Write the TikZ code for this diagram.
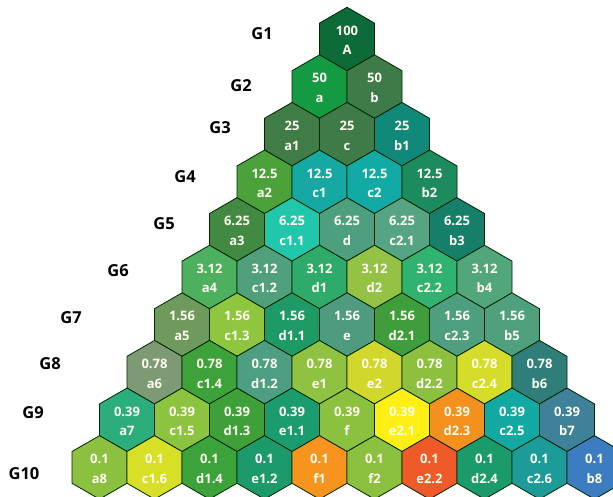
\documentclass[tikz,border=0pt]{standalone}
\usepackage{fontspec}
\setmainfont{Open Sans}
\usetikzlibrary{shapes.geometric}
\newcommand{\hx}[6]{%
  \definecolor{col#1}{HTML}{#4}%
  \node[hexa, fill=col#1] (h#1) at ({347+(#3-(#2+1)/2)*55},{39+(#2-1)*47.6}) {};
  \node[htxt] (t#1) at ([yshift=-1.5pt]h#1.center) {#5\\#6};}
\begin{document}
\begin{tikzpicture}[x=1pt,y=-1pt,
  hexa/.style={regular polygon, regular polygon sides=6, shape border rotate=30,
    minimum size=63.5pt, inner sep=0pt, outer sep=0pt, draw=black!85!green, line width=0.8pt},
  htxt/.style={text=white!95!yellow, font=\bfseries\fontsize{13}{19.5}\selectfont, align=center, inner sep=0pt},
  glab/.style={font=\bfseries\fontsize{16.5}{18}\selectfont, text=black, inner sep=0pt}]
\useasboundingbox (0,0) rectangle (613,497);
\clip (0,0) rectangle (613,497);
% row 1
\hx{A}{1}{1}{0D6A39}{100}{A}
% row 2
\hx{a}{2}{1}{139A43}{50}{a}
\hx{b}{2}{2}{3E7B48}{50}{b}
% row 3
\hx{a1}{3}{1}{407C45}{25}{a1}
\hx{c}{3}{2}{3E7B48}{25}{c}
\hx{b1}{3}{3}{11897A}{25}{b1}
% row 4
\hx{a2}{4}{1}{4CA23A}{12.5}{a2}
\hx{c1}{4}{2}{16A8A2}{12.5}{c1}
\hx{c2}{4}{3}{12AAA5}{12.5}{c2}
\hx{b2}{4}{4}{1C8C5E}{12.5}{b2}
% row 5
\hx{a3}{5}{1}{428A42}{6.25}{a3}
\hx{c11}{5}{2}{20C7AA}{6.25}{c1.1}
\hx{d}{5}{3}{4E9F80}{6.25}{d}
\hx{c21}{5}{4}{55A484}{6.25}{c2.1}
\hx{b3}{5}{5}{157F6A}{6.25}{b3}
% row 6
\hx{a4}{6}{1}{4DB05E}{3.12}{a4}
\hx{c12}{6}{2}{50A07C}{3.12}{c1.2}
\hx{d1}{6}{3}{2EAB6B}{3.12}{d1}
\hx{d2}{6}{4}{94C244}{3.12}{d2}
\hx{c22}{6}{5}{30B271}{3.12}{c2.2}
\hx{b4}{6}{6}{52A67C}{3.12}{b4}
% row 7
\hx{a5}{7}{1}{6E9B5B}{1.56}{a5}
\hx{c13}{7}{2}{8EC63F}{1.56}{c1.3}
\hx{d11}{7}{3}{1E9A64}{1.56}{d1.1}
\hx{e}{7}{4}{4E9B80}{1.56}{e}
\hx{d21}{7}{5}{3F9E3B}{1.56}{d2.1}
\hx{c23}{7}{6}{4E9E80}{1.56}{c2.3}
\hx{b5}{7}{7}{50A07E}{1.56}{b5}
% row 8
\hx{a6}{8}{1}{7D9A75}{0.78}{a6}
\hx{c14}{8}{2}{3EA23A}{0.78}{c1.4}
\hx{d12}{8}{3}{4D9E82}{0.78}{d1.2}
\hx{e1}{8}{4}{90C242}{0.78}{e1}
\hx{e2}{8}{5}{D2D82B}{0.78}{e2}
\hx{d22}{8}{6}{8CC03E}{0.78}{d2.2}
\hx{c24}{8}{7}{D6DC2A}{0.78}{c2.4}
\hx{b6}{8}{8}{2F7E79}{0.78}{b6}
% row 9
\hx{a7}{9}{1}{2CAE7C}{0.39}{a7}
\hx{c15}{9}{2}{8CC33F}{0.39}{c1.5}
\hx{d13}{9}{3}{3FA03A}{0.39}{d1.3}
\hx{e11}{9}{4}{1B9C6E}{0.39}{e1.1}
\hx{f}{9}{5}{8CC03F}{0.39}{f}
\hx{e21}{9}{6}{FFEF14}{0.39}{e2.1}
\hx{d23}{9}{7}{F4911E}{0.39}{d2.3}
\hx{c25}{9}{8}{12A9A3}{0.39}{c2.5}
\hx{b7}{9}{9}{3E8198}{0.39}{b7}
% row 10
\hx{a8}{10}{1}{8CC03F}{0.1}{a8}
\hx{c16}{10}{2}{D8DF27}{0.1}{c1.6}
\hx{d14}{10}{3}{3CA23A}{0.1}{d1.4}
\hx{e12}{10}{4}{1D9A6C}{0.1}{e1.2}
\hx{f1}{10}{5}{F7941D}{0.1}{f1}
\hx{f2}{10}{6}{8CC03F}{0.1}{f2}
\hx{e22}{10}{7}{EF5A28}{0.1}{e2.2}
\hx{d24}{10}{8}{1B9A6C}{0.1}{d2.4}
\hx{c26}{10}{9}{1D9B98}{0.1}{c2.6}
\hx{b8}{10}{10}{3B7DC0}{0.1}{b8}
% generation labels
\node[glab] (G1) at (262,34) {G1};
\node[glab] (G2) at (241,86) {G2};
\node[glab] (G3) at (220,128) {G3};
\node[glab] (G4) at (185,177) {G4};
\node[glab] (G5) at (164,224) {G5};
\node[glab] (G6) at (118,271) {G6};
\node[glab] (G7) at (71,318) {G7};
\node[glab] (G8) at (50,364) {G8};
\node[glab] (G9) at (33,413) {G9};
\node[glab] (G10) at (24,474) {G10};
\end{tikzpicture}
\end{document}
